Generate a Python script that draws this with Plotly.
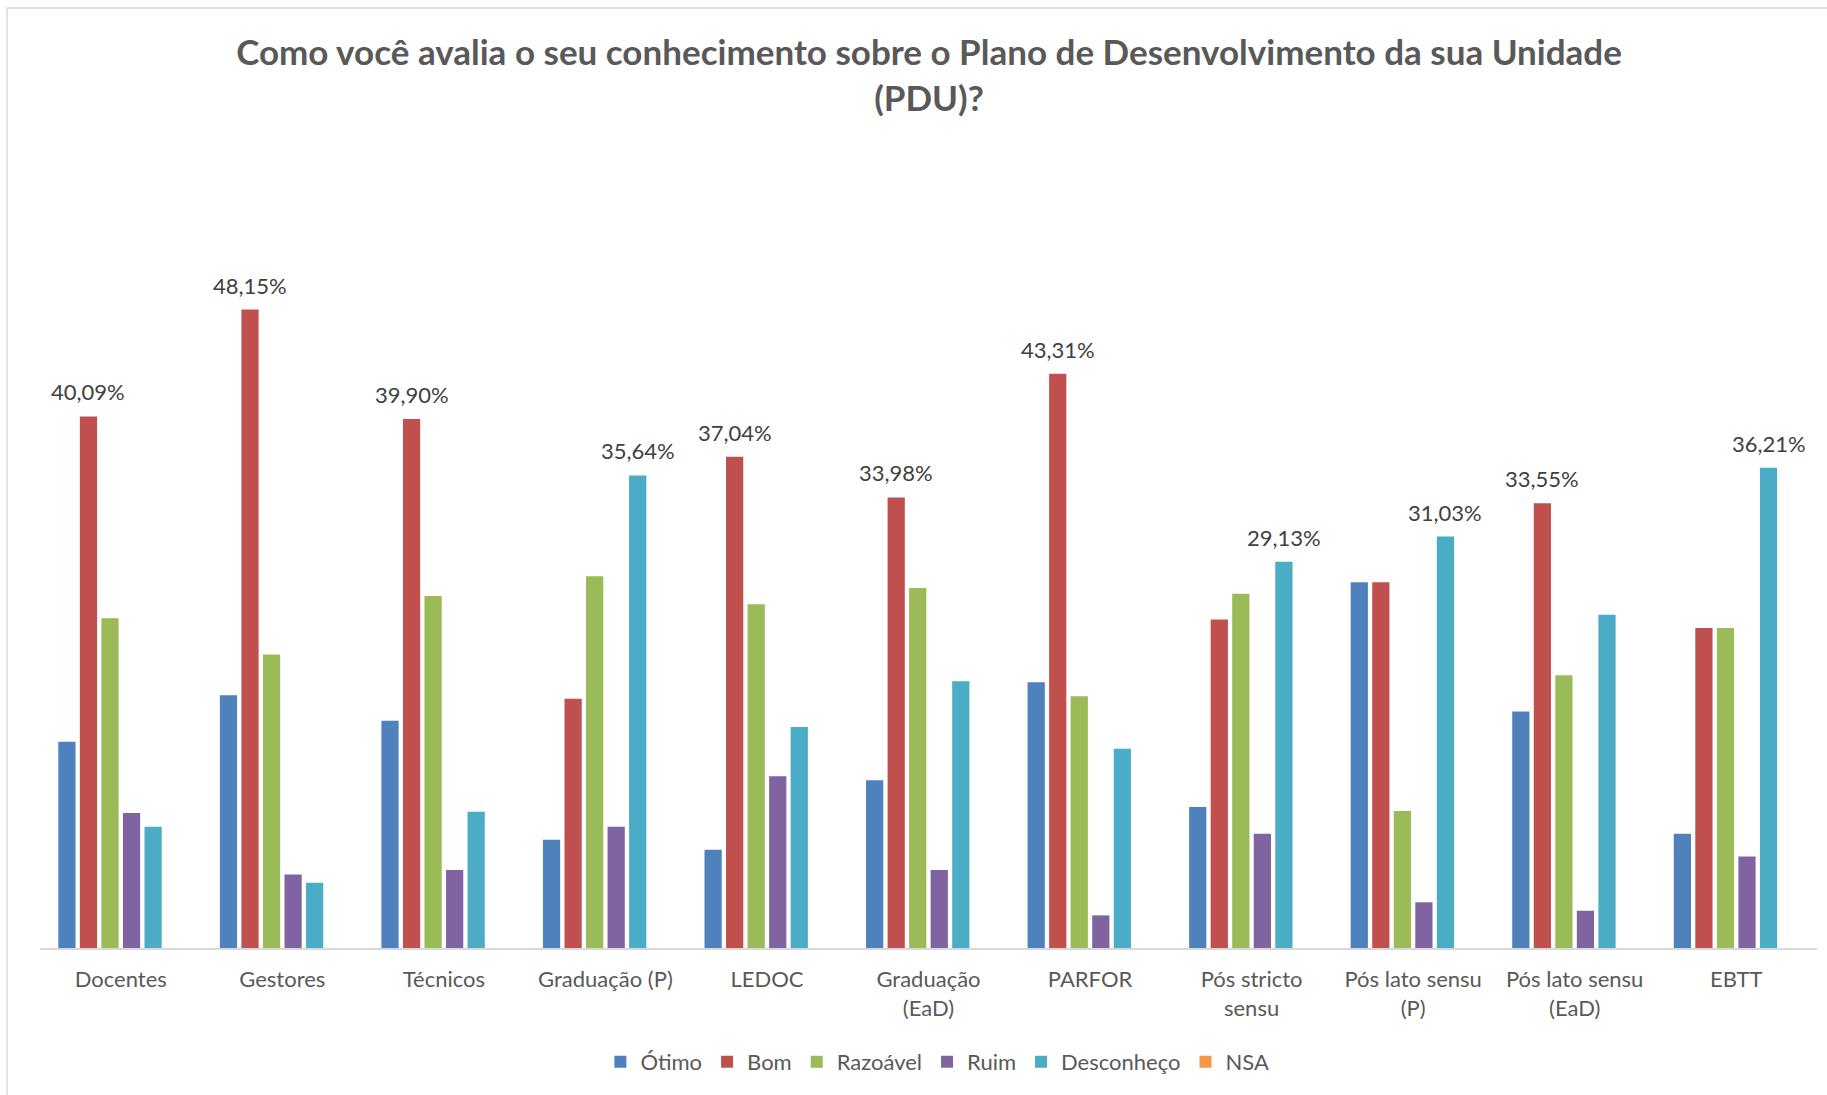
import plotly.graph_objects as go

categories = ["Docentes", "Gestores", "Técnicos", "Graduação (P)", "LEDOC",
              "Graduação<br>(EaD)", "PARFOR", "Pós stricto<br>sensu",
              "Pós lato sensu<br>(P)", "Pós lato sensu<br>(EaD)", "EBTT"]

otimo      = [15.55, 19.07, 17.14, 8.17, 7.41, 12.65, 20.04, 10.63, 27.59, 17.84, 8.62]
bom        = [40.09, 48.15, 39.90, 18.80, 37.04, 33.98, 43.31, 24.78, 27.59, 33.55, 24.14]
razoavel   = [24.87, 22.14, 26.54, 28.03, 25.93, 27.15, 18.98, 26.71, 10.34, 20.56, 24.14]
ruim       = [10.19, 5.54, 5.89, 9.14, 12.96, 5.89, 2.46, 8.61, 3.45, 2.81, 6.90]
desconheco = [9.14, 4.92, 10.28, 35.64, 16.67, 20.12, 15.03, 29.13, 31.03, 25.13, 36.21]
nsa        = [0, 0, 0, 0, 0, 0, 0, 0, 0, 0, 0]

series = [
    ("Ótimo", otimo, "#4F81BD"),
    ("Bom", bom, "#C0504D"),
    ("Razoável", razoavel, "#9BBB59"),
    ("Ruim", ruim, "#8064A2"),
    ("Desconheço", desconheco, "#4BACC6"),
    ("NSA", nsa, "#F79646"),
]

W, H = 1827, 1095
ML, MR, MT, MB = 40, 10, 285, 147
FONT = "Lato"
BARGAP = 0.2
BARGROUPGAP = 0.2

pw = W - ML - MR
ph = H - MT - MB
def px2paper_x(px):
    return (px - ML) / pw
def px2paper_y(py):
    return (H - MB - py) / ph

fig = go.Figure()
for name, vals, color in series:
    fig.add_trace(go.Bar(
        name=name, x=categories, y=vals, marker=dict(color=color, line=dict(width=0)),
    ))

# data labels: only the largest value in each category, above its bar
ns = len(series)
catw = pw / len(categories)
slot = catw * (1 - BARGAP) / ns
for i, cat in enumerate(categories):
    vals = [s[1][i] for s in series]
    j = vals.index(max(vals))
    v = vals[j]
    fig.add_annotation(
        x=cat, y=v, xref="x", yref="y",
        text=f"{v:.2f}".replace(".", ",") + "%",
        showarrow=False, yanchor="bottom", yshift=9,
        xshift=(j + 0.5 - ns / 2) * slot,
        font=dict(family=FONT, size=22, color="#404040"),
    )

fig.add_shape(type="rect", xref="paper", yref="paper",
              x0=px2paper_x(7), x1=px2paper_x(1835), y0=px2paper_y(8), y1=px2paper_y(1105),
              line=dict(color="#D9D9D9", width=1.5), fillcolor="rgba(0,0,0,0)", layer="below")

fig.update_layout(
    width=W, height=H,
    margin=dict(l=ML, r=MR, t=MT, b=MB),
    paper_bgcolor="white", plot_bgcolor="white",
    barmode="group", bargap=BARGAP, bargroupgap=BARGROUPGAP,
    title=dict(
        text="<b>Como você avalia o seu conhecimento sobre o Plano de Desenvolvimento da sua Unidade<br>(PDU)?</b>",
        x=0.5085, xanchor="center", xref="container",
        y=1 - 65 / H, yanchor="top", yref="container",
        font=dict(family=FONT, size=35, color="#595959"),
    ),
    xaxis=dict(
        showline=True, linecolor="#D9D9D9", linewidth=2,
        showgrid=False, ticks="", ticklabelstandoff=11,
        tickfont=dict(family=FONT, size=22, color="#595959"),
    ),
    yaxis=dict(range=[0, 50], visible=False, showgrid=False, zeroline=False),
    legend=dict(
        orientation="h", x=0.505, xanchor="center", y=px2paper_y(1062), yanchor="middle",
        font=dict(family=FONT, size=22, color="#595959"),
        itemwidth=30, traceorder="normal",
    ),
    showlegend=True,
)

fig.write_html("out.html", config={"displayModeBar": False},
               post_script="document.body.style.margin='0';document.body.style.padding='0';")
